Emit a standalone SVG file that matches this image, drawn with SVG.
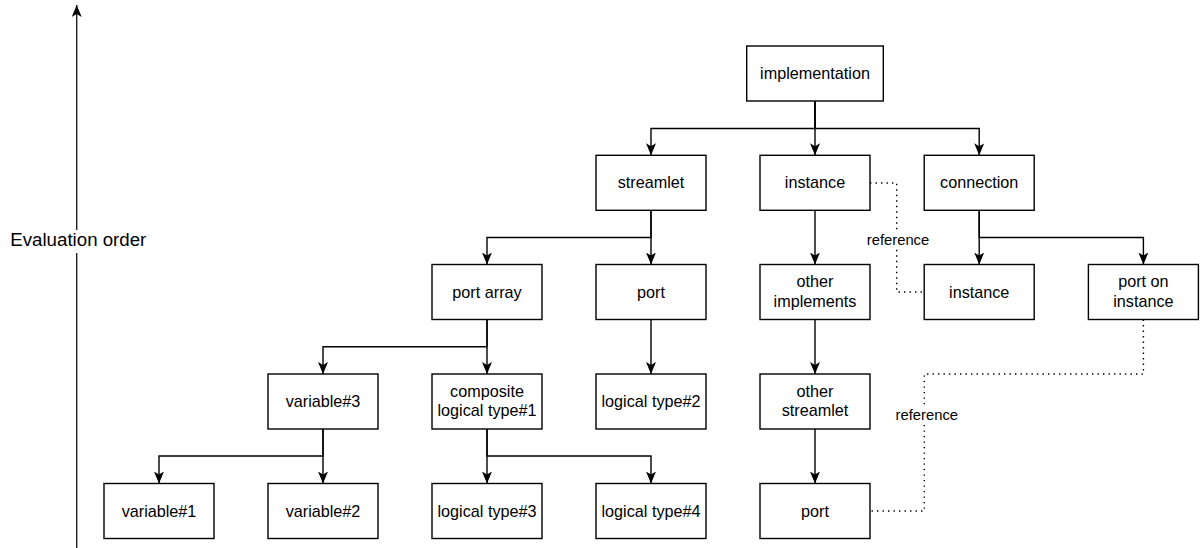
<svg xmlns="http://www.w3.org/2000/svg" width="1200" height="548" viewBox="0 0 1200 548">
  <style>
    .box { fill: #ffffff; stroke: #000000; stroke-width: 1.4; }
    .lbl { font-family: "Liberation Sans", Arial, Helvetica, sans-serif; font-size: 16.2px; fill: #000000; text-anchor: middle; }
    .edge { fill: none; stroke: #000000; stroke-width: 1.4; }
    .ref { fill: none; stroke: #000000; stroke-width: 1.4; stroke-dasharray: 1.4 4.1; }
    .elbl { font-family: "Liberation Sans", Arial, Helvetica, sans-serif; font-size: 14.8px; fill: #000000; text-anchor: middle; }
    .axis { fill: none; stroke: #222222; stroke-width: 1.4; }
    .axislbl { font-family: "Liberation Sans", Arial, Helvetica, sans-serif; font-size: 18.7px; fill: #000000; text-anchor: middle; }
  </style>
  <defs>
    <marker id="arrow" viewBox="0 0 12 10" refX="12" refY="5" markerWidth="12" markerHeight="10" markerUnits="userSpaceOnUse" orient="auto">
      <path d="M0,0 L12,5 L0,10 L3,5 Z" fill="#000000"/>
    </marker>
  </defs>

  <rect width="1200" height="548" fill="#ffffff"/>

  <!-- evaluation order axis -->
  <g id="axis">
    <path class="axis" d="M76.7,548 L76.7,5" marker-end="url(#arrow)"/>
    <rect x="9" y="230" width="139" height="23" fill="#ffffff"/>
    <text class="axislbl" x="78.3" y="245.7">Evaluation order</text>
  </g>

  <!-- connectors -->
  <g id="connectors">
    <path class="edge" d="M815,101 V128.5 H651 V155.3" marker-end="url(#arrow)"/>
    <path class="edge" d="M815,101 V155.3" marker-end="url(#arrow)"/>
    <path class="edge" d="M815,101 V128.5 H979.2 V155.3" marker-end="url(#arrow)"/>

    <path class="edge" d="M651,210.3 V237.5 H487 V264.5" marker-end="url(#arrow)"/>
    <path class="edge" d="M651,210.3 V264.5" marker-end="url(#arrow)"/>
    <path class="edge" d="M815,210.3 V264.5" marker-end="url(#arrow)"/>
    <path class="edge" d="M979.2,210.3 V264.5" marker-end="url(#arrow)"/>
    <path class="edge" d="M979.2,210.3 V237.5 H1143.4 V264.5" marker-end="url(#arrow)"/>

    <path class="edge" d="M487,319.5 V346.7 H323 V374" marker-end="url(#arrow)"/>
    <path class="edge" d="M487,319.5 V374" marker-end="url(#arrow)"/>
    <path class="edge" d="M651,319.5 V374" marker-end="url(#arrow)"/>
    <path class="edge" d="M815,319.5 V374" marker-end="url(#arrow)"/>

    <path class="edge" d="M323,429 V456 H159 V483.5" marker-end="url(#arrow)"/>
    <path class="edge" d="M323,429 V483.5" marker-end="url(#arrow)"/>
    <path class="edge" d="M487,429 V483.5" marker-end="url(#arrow)"/>
    <path class="edge" d="M487,429 V456 H651 V483.5" marker-end="url(#arrow)"/>
    <path class="edge" d="M815,429 V483.5" marker-end="url(#arrow)"/>

    <!-- dotted references -->
    <path class="ref" d="M870,183 H896.7 V292 H924.2"/>
    <rect x="866" y="231.5" width="64" height="17" fill="#ffffff"/>
    <text class="elbl" x="898" y="245">reference</text>

    <path class="ref" d="M1143.4,319.5 V374 H924.3 V511 H870"/>
    <rect x="895" y="406.5" width="64" height="17" fill="#ffffff"/>
    <text class="elbl" x="926.8" y="420">reference</text>
  </g>

  <!-- nodes -->
  <g id="implementation">
    <rect class="box" x="746.7" y="46" width="136.6" height="55"/>
    <text class="lbl" x="815" y="79">implementation</text>
  </g>
  <g id="streamlet">
    <rect class="box" x="596" y="155.3" width="110" height="55"/>
    <text class="lbl" x="651" y="188.3">streamlet</text>
  </g>
  <g id="instance">
    <rect class="box" x="760" y="155.3" width="110" height="55"/>
    <text class="lbl" x="815" y="188.3">instance</text>
  </g>
  <g id="connection">
    <rect class="box" x="924.2" y="155.3" width="110" height="55"/>
    <text class="lbl" x="979.2" y="188.3">connection</text>
  </g>
  <g id="port-array">
    <rect class="box" x="432" y="264.5" width="110" height="55"/>
    <text class="lbl" x="487" y="297.5">port array</text>
  </g>
  <g id="port">
    <rect class="box" x="596" y="264.5" width="110" height="55"/>
    <text class="lbl" x="651" y="297.5">port</text>
  </g>
  <g id="other-implements">
    <rect class="box" x="760" y="264.5" width="110" height="55"/>
    <text class="lbl" x="815" y="287.4">other</text>
    <text class="lbl" x="815" y="306.8">implements</text>
  </g>
  <g id="connection-instance">
    <rect class="box" x="924.2" y="264.5" width="110" height="55"/>
    <text class="lbl" x="979.2" y="297.5">instance</text>
  </g>
  <g id="port-on-instance">
    <rect class="box" x="1088.4" y="264.5" width="110" height="55"/>
    <text class="lbl" x="1143.4" y="287.4">port on</text>
    <text class="lbl" x="1143.4" y="306.8">instance</text>
  </g>
  <g id="variable-3">
    <rect class="box" x="268" y="374" width="110" height="55"/>
    <text class="lbl" x="323" y="407">variable#3</text>
  </g>
  <g id="composite-logical-type-1">
    <rect class="box" x="432" y="374" width="110" height="55"/>
    <text class="lbl" x="487" y="396.9">composite</text>
    <text class="lbl" x="487" y="416.3">logical type#1</text>
  </g>
  <g id="logical-type-2">
    <rect class="box" x="596" y="374" width="110" height="55"/>
    <text class="lbl" x="651" y="407">logical type#2</text>
  </g>
  <g id="other-streamlet">
    <rect class="box" x="760" y="374" width="110" height="55"/>
    <text class="lbl" x="815" y="396.9">other</text>
    <text class="lbl" x="815" y="416.3">streamlet</text>
  </g>
  <g id="variable-1">
    <rect class="box" x="104" y="483.5" width="110" height="55"/>
    <text class="lbl" x="159" y="516.5">variable#1</text>
  </g>
  <g id="variable-2">
    <rect class="box" x="268" y="483.5" width="110" height="55"/>
    <text class="lbl" x="323" y="516.5">variable#2</text>
  </g>
  <g id="logical-type-3">
    <rect class="box" x="432" y="483.5" width="110" height="55"/>
    <text class="lbl" x="487" y="516.5">logical type#3</text>
  </g>
  <g id="logical-type-4">
    <rect class="box" x="596" y="483.5" width="110" height="55"/>
    <text class="lbl" x="651" y="516.5">logical type#4</text>
  </g>
  <g id="other-port">
    <rect class="box" x="760" y="483.5" width="110" height="55"/>
    <text class="lbl" x="815" y="516.5">port</text>
  </g>
</svg>
